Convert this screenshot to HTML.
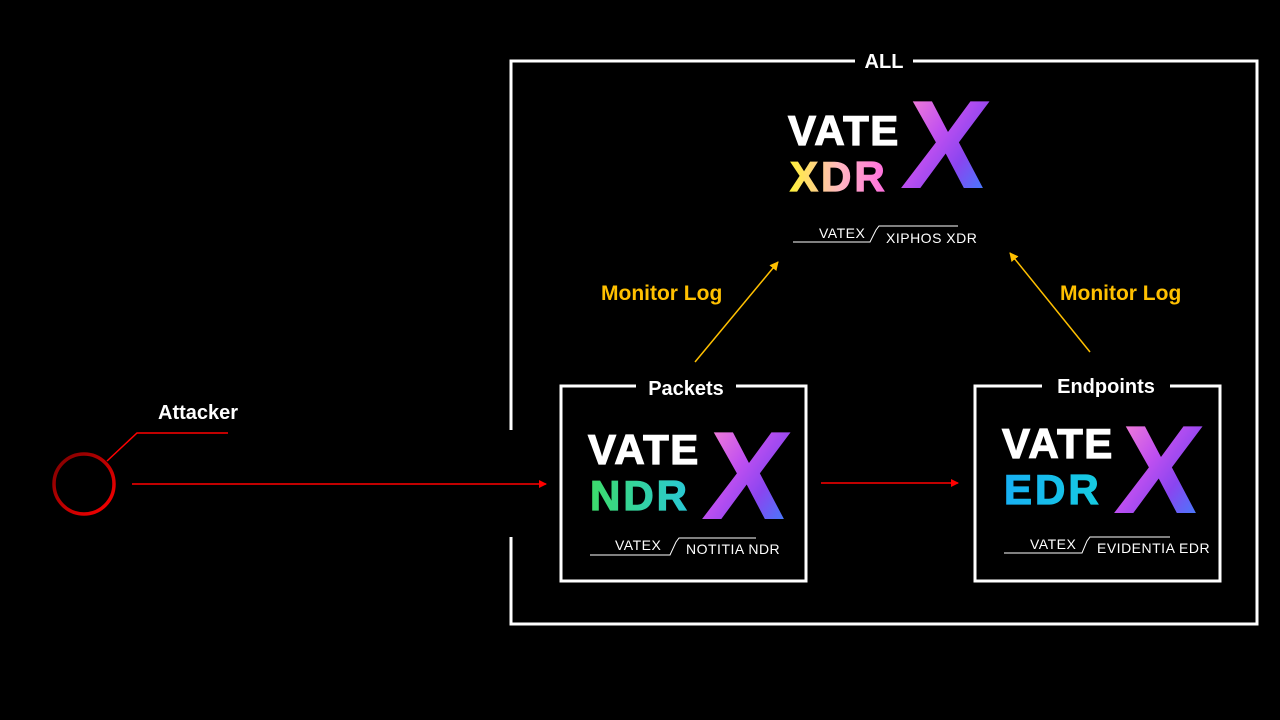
<!DOCTYPE html>
<html><head><meta charset="utf-8"><style>
html,body{margin:0;padding:0;background:#000;}
svg{display:block}
text{font-family:"Liberation Sans",sans-serif;}
.big{font-size:42px;font-weight:bold;letter-spacing:1.5px;stroke-width:1.2px}
.sub{font-size:14px;letter-spacing:0.5px}
</style></head><body>
<svg width="1280" height="720" viewBox="0 0 1280 720" xmlns="http://www.w3.org/2000/svg">
<defs>
<linearGradient id="gx" x1="0" y1="0" x2="1" y2="1">
<stop offset="0" stop-color="#ff8ad0"/><stop offset="0.4" stop-color="#c050f0"/><stop offset="0.65" stop-color="#8a45f0"/><stop offset="1" stop-color="#2f8cff"/>
</linearGradient>
<linearGradient id="gxdr" x1="0" y1="0" x2="1" y2="0">
<stop offset="0" stop-color="#fff23a"/><stop offset="0.5" stop-color="#ffb8c0"/><stop offset="1" stop-color="#ff6be0"/>
</linearGradient>
<linearGradient id="gndr" x1="0" y1="0" x2="1" y2="0">
<stop offset="0" stop-color="#3ddc6a"/><stop offset="1" stop-color="#29c8d8"/>
</linearGradient>
<linearGradient id="gedr" x1="0" y1="0" x2="1" y2="0">
<stop offset="0" stop-color="#17b0f4"/><stop offset="1" stop-color="#16cce0"/>
</linearGradient>
<linearGradient id="gc" x1="0" y1="0" x2="1" y2="1">
<stop offset="0" stop-color="#7a0000"/><stop offset="1" stop-color="#ff0000"/>
</linearGradient>
<marker id="ar" markerWidth="8" markerHeight="8" refX="7" refY="4" orient="auto" markerUnits="userSpaceOnUse"><path d="M0,0 L8,4 L0,8z" fill="#ff0000"/></marker>
<marker id="ay" markerWidth="9" markerHeight="9" refX="8" refY="4.5" orient="auto" markerUnits="userSpaceOnUse"><path d="M0,0 L9,4.5 L0,9z" fill="#ffc000"/></marker>
</defs>

<g fill="none" stroke="#fff" stroke-width="3">
<path d="M855,61 H511 V430 M511,537 V624 H1257 V61 H913"/>
<path d="M636,386 H561 V581 H806 V386 H736"/>
<path d="M1042,386 H975 V581 H1220 V386 H1170"/>
</g>
<text x="884" y="68" fill="#fff" font-size="20" font-weight="bold" text-anchor="middle">ALL</text>
<text x="686" y="395" fill="#fff" font-size="20" font-weight="bold" text-anchor="middle">Packets</text>
<text x="1106" y="393" fill="#fff" font-size="20" font-weight="bold" text-anchor="middle">Endpoints</text>

<text class="big" x="788" y="145" fill="#fff" stroke="#fff">VATE</text>
<text class="big" x="790" y="191" fill="url(#gxdr)" stroke="url(#gxdr)" style="letter-spacing:3px">XDR</text>
<text x="0" y="0" fill="url(#gx)" font-size="126" font-weight="bold" transform="translate(900,188) skewX(-6)">X</text>
<path d="M793,242 H870 L876,230 L879,226 H958" fill="none" stroke="#fff" stroke-width="1"/>
<text class="sub" x="819" y="238" fill="#fff">VATEX</text>
<text class="sub" x="886" y="243" fill="#fff">XIPHOS XDR</text>

<text class="big" x="588" y="464" fill="#fff" stroke="#fff">VATE</text>
<text class="big" x="590" y="510" fill="url(#gndr)" stroke="url(#gndr)" style="letter-spacing:3px">NDR</text>
<text x="0" y="0" fill="url(#gx)" font-size="126" font-weight="bold" transform="translate(701,519) skewX(-6)">X</text>
<path d="M590,555 H670 L676,542 L679,538 H756" fill="none" stroke="#fff" stroke-width="1"/>
<text class="sub" x="615" y="550" fill="#fff">VATEX</text>
<text class="sub" x="686" y="554" fill="#fff">NOTITIA NDR</text>

<text class="big" x="1002" y="458" fill="#fff" stroke="#fff">VATE</text>
<text class="big" x="1004" y="504" fill="url(#gedr)" stroke="url(#gedr)" style="letter-spacing:3px">EDR</text>
<text x="0" y="0" fill="url(#gx)" font-size="126" font-weight="bold" transform="translate(1113,513) skewX(-6)">X</text>
<path d="M1004,553 H1082 L1087,541 L1090,537 H1170" fill="none" stroke="#fff" stroke-width="1"/>
<text class="sub" x="1030" y="549" fill="#fff">VATEX</text>
<text class="sub" x="1097" y="553" fill="#fff">EVIDENTIA EDR</text>

<line x1="695" y1="362" x2="778" y2="262" stroke="#ffc000" stroke-width="1.5" marker-end="url(#ay)"/>
<line x1="1090" y1="352" x2="1010" y2="253" stroke="#ffc000" stroke-width="1.5" marker-end="url(#ay)"/>
<text x="601" y="300" fill="#ffc000" font-size="21" font-weight="bold">Monitor Log</text>
<text x="1060" y="300" fill="#ffc000" font-size="21" font-weight="bold">Monitor Log</text>

<circle cx="84" cy="484" r="30" fill="none" stroke="url(#gc)" stroke-width="3.5"/>
<path d="M107,461 L137,433 H228" fill="none" stroke="#ff0000" stroke-width="1.5"/>
<text x="158" y="419" fill="#fff" font-size="20" font-weight="bold">Attacker</text>
<line x1="132" y1="484" x2="546" y2="484" stroke="#ff0000" stroke-width="1.5" marker-end="url(#ar)"/>
<line x1="821" y1="483" x2="958" y2="483" stroke="#ff0000" stroke-width="1.5" marker-end="url(#ar)"/>
</svg>
</body></html>
